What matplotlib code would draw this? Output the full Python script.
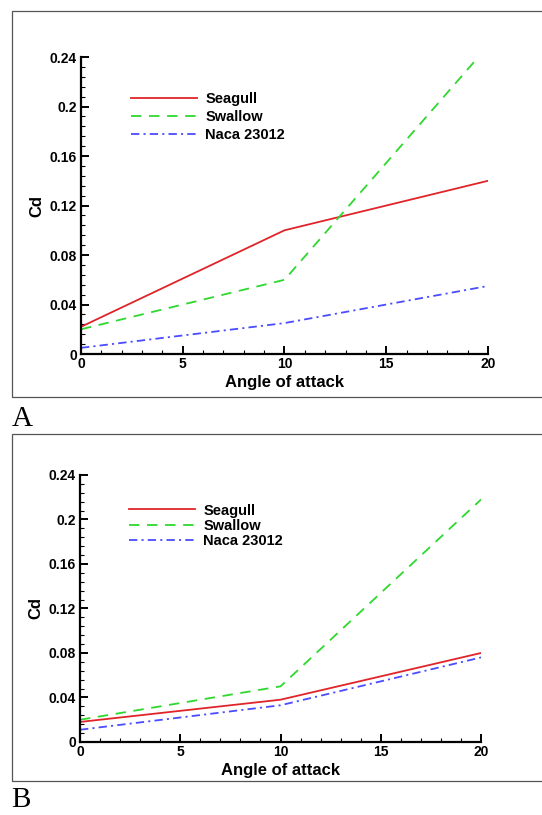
import matplotlib
matplotlib.use('Agg')
import matplotlib.pyplot as plt
from matplotlib.patches import Rectangle
from matplotlib.ticker import MultipleLocator

plt.rcParams['font.family'] = ['Liberation Sans', 'DejaVu Sans']
plt.rcParams['lines.scale_dashes'] = False

angle = [0, 10, 20]

# panel A
seagull_a = [0.022, 0.100, 0.140]
swallow_a = [0.020, 0.060, 0.249]
naca_a = [0.005, 0.025, 0.055]

# panel B
seagull_b = [0.018, 0.038, 0.080]
swallow_b = [0.020, 0.050, 0.218]
naca_b = [0.011, 0.033, 0.076]

yticks = [0, 0.04, 0.08, 0.12, 0.16, 0.2, 0.24]
ytick_labels = ['0', '0.04', '0.08', '0.12', '0.16', '0.2', '0.24']
xticks = [0, 5, 10, 15, 20]
labels = ['Seagull', 'Swallow', 'Naca 23012']

red = '#e0252a'
green = '#2ed82e'
blue = '#4a4cff'

fig = plt.figure(figsize=(5.42, 8.15), dpi=100)


def panel(rect, box, letter, letter_y, seagull, swallow, naca, leg_xy, spacing):
    # outer frame around the panel
    fig.patches.append(Rectangle((box[0], box[1]), box[2], box[3],
                                 transform=fig.transFigure, fill=False,
                                 edgecolor='#555555', linewidth=0.9))
    fig.text(0.021, letter_y, letter, family='Liberation Serif', fontsize=21,
             ha='left', va='baseline')

    ax = fig.add_axes(rect)
    ax.plot(angle, seagull, color=red, lw=1.3, label=labels[0])
    ax.plot(angle, swallow, color=green, lw=1.3, dashes=(7.5, 5.5), label=labels[1])
    ax.plot(angle, naca, color=blue, lw=1.3, dashes=(6, 3, 1.5, 3), label=labels[2])

    ax.set_xlim(0, 20)
    ax.set_ylim(0, 0.24)
    ax.set_xticks(xticks)
    ax.set_xticklabels([str(t) for t in xticks])
    ax.set_yticks(yticks)
    ax.set_yticklabels(ytick_labels)
    ax.xaxis.set_minor_locator(MultipleLocator(1))
    ax.yaxis.set_minor_locator(MultipleLocator(0.008))

    for s in ['top', 'right']:
        ax.spines[s].set_visible(False)
    for s in ['left', 'bottom']:
        ax.spines[s].set_linewidth(1.6)
    ax.tick_params(which='major', direction='in', length=6, width=1.4,
                   labelsize=10)
    ax.tick_params(which='minor', direction='in', length=3, width=0.8)
    ax.tick_params(axis='x', pad=2)
    ax.tick_params(axis='y', pad=3)
    for t in ax.get_xticklabels() + ax.get_yticklabels():
        t.set_fontweight('bold')

    ax.set_xlabel('Angle of attack', fontsize=12, fontweight='bold', labelpad=3)
    ax.set_ylabel('Cd', fontsize=12, fontweight='bold', labelpad=4)

    leg = ax.legend(loc='upper left', bbox_to_anchor=leg_xy, frameon=False,
                    fontsize=10.5, handlelength=4.5, handletextpad=0.6,
                    labelspacing=spacing, borderpad=0, borderaxespad=0)
    for t in leg.get_texts():
        t.set_fontweight('bold')
    return ax


panel([0.1494, 0.5656, 0.751, 0.3644], [0.0221, 0.5129, 1.0, 0.4736],
      'A', 0.4770, seagull_a, swallow_a, naca_a, (0.123, 0.882), 0.27)
panel([0.1476, 0.0896, 0.740, 0.3276], [0.0221, 0.0417, 1.0, 0.4258],
      'B', 0.0100, seagull_b, swallow_b, naca_b, (0.122, 0.893), 0.1)

fig.savefig('out.png', dpi=100)
